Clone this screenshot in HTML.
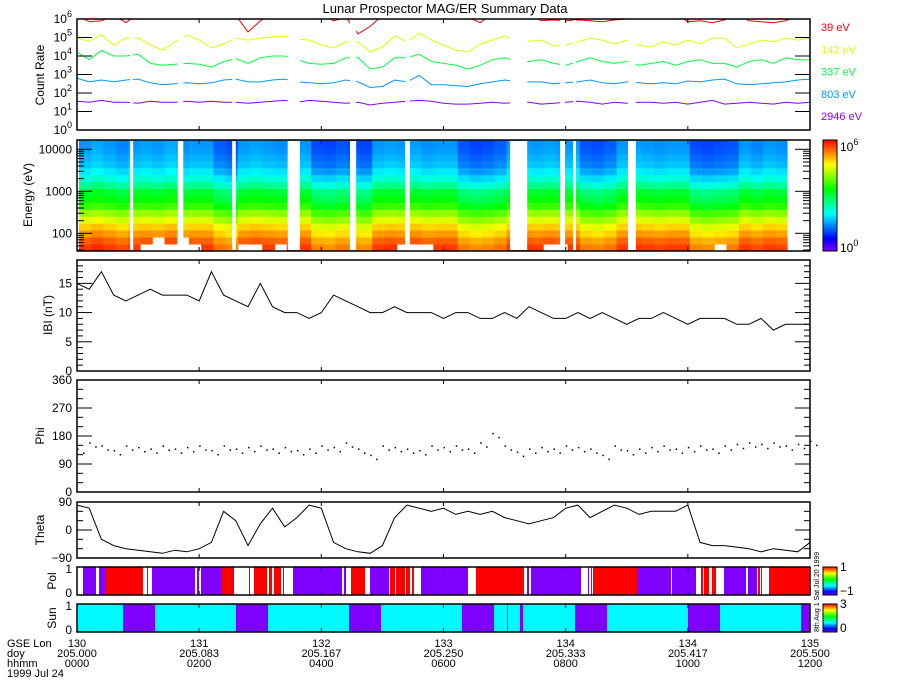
<!DOCTYPE html>
<html><head><meta charset="utf-8"><style>
html,body{margin:0;padding:0;background:#fff;}
svg{display:block;font-family:"Liberation Sans",sans-serif;}
text{fill:#000;}
</style></head><body>
<svg id="chart" width="900" height="700" viewBox="0 0 900 700" xmlns="http://www.w3.org/2000/svg">
<rect x="0" y="0" width="900" height="700" fill="#fff"/>
<text x="445" y="13" font-size="13" text-anchor="middle">Lunar Prospector MAG/ER Summary Data</text>
</svg>
<script>
// ---- data ----
const sampleTimes = [];
for (let i = 0; i <= 60; i++) sampleTimes.push(i * 0.2);
const countLabels = ["39 eV","142 eV","337 eV","803 eV","2946 eV"];
const c39 = [6.2,5.85,5.9,6.2,5.8,6.3,6.3,6.3,6.3,6.3, 6.3,6.3,6.3,6.2,5.3,5.9,6.3,6.3,6.3,6.3, 6.3,5.9,6.1,5.2,5.6,6.2,6.3,6.3,6.3,6.3, 6.3,6.3,6.1,5.8,6.3,6.3,6.3,6.3,5.9,5.95, 5.9,5.95,5.9,5.85,5.95,6.0,6.3,6.3,6.2,6.3, 5.85,5.9,5.8,5.95,6.3,5.9,5.85,5.8,5.9,6.2,6.3];
const c142 = [4.97,4.8,5.14,4.59,4.97,4.97,4.59,4.32,4.76,5.14, 4.86,4.43,4.65,4.97,4.86,4.97,5.03,5.08,4.9,4.86, 4.59,4.43,4.76,4.76,4.22,4.49,5.08,4.76,5.24,4.86, 4.59,4.32,4.22,4.65,4.86,5.08,4.76,4.8,4.86,4.54, 4.59,4.76,4.97,4.86,4.65,4.86,4.59,4.49,4.76,4.59, 4.86,4.65,4.97,4.97,4.43,4.65,4.86,4.76,4.97,4.86,4.97];
const c337 = [4.2,3.8,4.3,4.0,4.0,4.1,3.6,3.5,3.55,3.6, 3.55,3.4,3.7,3.85,3.6,3.9,4.0,4.0,3.8,3.6, 3.55,3.6,3.9,3.9,3.3,3.4,3.9,3.9,4.1,3.7, 3.6,3.5,3.3,3.5,3.8,3.9,3.7,3.7,3.8,3.6, 3.5,3.7,3.9,3.7,3.6,3.7,3.5,3.6,3.7,3.5, 3.7,3.8,3.6,3.6,3.4,3.7,3.8,3.6,3.9,3.8,3.8];
const c803 = [2.8,2.6,2.7,2.6,2.7,2.75,2.55,2.45,2.5,2.55, 2.5,2.55,2.7,2.75,2.6,2.6,2.7,2.75,2.6,2.55, 2.5,2.55,2.7,2.6,2.3,2.35,2.7,2.6,2.95,2.45, 2.45,2.4,2.35,2.5,2.6,2.7,2.6,2.6,2.6,2.5, 2.55,2.6,2.7,2.55,2.5,2.6,2.55,2.5,2.55,2.5, 2.65,2.6,2.7,2.75,2.5,2.45,2.5,2.55,2.6,2.7,2.75];
const c2946 = [1.55,1.5,1.6,1.5,1.5,1.45,1.55,1.5,1.5,1.55, 1.5,1.55,1.5,1.5,1.45,1.5,1.55,1.6,1.5,1.6, 1.55,1.5,1.45,1.5,1.35,1.45,1.5,1.55,1.6,1.55, 1.45,1.4,1.4,1.45,1.5,1.45,1.5,1.5,1.4,1.45, 1.5,1.55,1.5,1.4,1.5,1.45,1.5,1.5,1.45,1.5, 1.4,1.5,1.6,1.4,1.45,1.5,1.45,1.4,1.5,1.45,1.5];
const dataGaps = [[0.87,0.92],[1.65,1.74],[2.54,2.60],[3.45,3.65],[4.47,4.57],[5.37,5.45],[7.09,7.37],[7.91,7.99],[8.12,8.17],[9.02,9.15]];
const specEnergyEdges = [1.58,1.745,1.91,2.075,2.24,2.405,2.57,2.735,2.9,3.065,3.23,3.395,3.56,3.725,3.89,4.055,4.22];
const specProfile = [5.7,5.5,5.2,4.9,4.5,4.1,3.6,3.3,3.1,2.6,2.2,1.9,1.7,1.6,1.5,1.45];
const specOffset = [0,0.1,0,-0.1,0,0.05,0,0.1,-0.05,0, 0,-0.3,-0.4,0,0.05,0,-0.05,0.05,0,-0.4, -0.45,-0.35,-0.4,-0.45,0,0.05,0,0.05,-0.05,0, 0,-0.35,-0.45,-0.4,-0.3,0,0.05,0,0.05,0, 0,-0.35,-0.4,-0.3,0,0.05,0,-0.05,0,0, -0.4,-0.45,-0.4,-0.35,0,-0.1,0,-0.05];
const specLowCut = [0,0,0,0,0,1,2,1,2,1, 0,0,0,1,1,0,1,0,0,0, 0,0,0,0,0,0,1,1,1,0, 0,0,0,0,0,0,0,0,1,1, 0,0,0,0,0,0,0,0,0,0, 0,0,1,0,0,0,0,0];
const bMag = [15,14,17,13,12,13,14,13,13,13, 12,17,13,12,11,15,11,10,10,9, 10,13,12,11,10,10,11,10,10,10, 9,10,10,9,9,10,9,11,10,9, 9,10,9,10,9,8,9,9,10,9, 8,9,9,9,8,8,9,7,8,8,8];
const phiVals = [140,160,150,135,150,145,140,150,140,145, 150,135,150,140,145,150,140,145,135,140, 150,145,160,140,120,150,145,140,135,150, 145,150,140,160,190,150,130,140,145,140, 150,145,140,120,150,135,140,145,150,140, 145,150,140,150,155,160,155,160,150,155,165];
const thetaVals = [80,70,-30,-50,-60,-65,-70,-75,-65,-70, -60,-40,60,30,-50,20,70,10,40,80, 70,-40,-60,-70,-75,-50,40,80,70,60, 70,50,60,50,60,40,30,20,30,40, 70,80,40,60,80,70,50,60,60,60, 80,-40,-50,-50,-55,-60,-70,-60,-65,-70,-40];
const polSegs = [[83,96,-1],[99,105,-1],[105,143,1],[147,148,-1],[152,195,-1],[197,199,-1],[201,221,-1],[221,234,1],[249,250,-1],[254,267,1],[269,272,1],[274,281,1],[283,284,1],[293,342,-1],[344,346,-1],[351,365,1],[370,371,-1],[371,389,-1],[390,395,1],[396,405,1],[406,410,1],[412,414,1],[421,468,-1],[476,524,1],[527,529,-1],[531,581,-1],[588,589,-1],[591,592,1],[593,637,1],[637,671,-1],[672,696,-1],[701,703,1],[704,709,1],[712,716,1],[724,746,-1],[748,757,-1],[758,760,1],[761,762,1],[769,809,1]];
const sunSegs = [[77,123,2],[123,155,0],[155,236,2],[236,268,0],[268,349,2],[349,381,0],[381,462,2],[462,494,0],[494,507,2],[507,508,0],[508,520,2],[520,523,0],[523,575,2],[575,607,0],[607,688,2],[688,720,0],[720,801,2],[801,810,0]];
const lonTicks = ["130","131","132","133","134","134","135"];
const doyTicks = ["205.000","205.083","205.167","205.250","205.333","205.417","205.500"];
const hhmmTicks = ["0000","0200","0400","0600","0800","1000","1200"];

// ---- helpers ----
const NS = "http://www.w3.org/2000/svg";
const svg = document.getElementById("chart");
const X0 = 77, X1 = 810;
const xs = t => X0 + t / 12 * (X1 - X0);
function mk(tag, attrs, parent) {
  const e = document.createElementNS(NS, tag);
  for (const k in attrs) e.setAttribute(k, attrs[k]);
  (parent || svg).appendChild(e);
  return e;
}
function hueColor(v, vmax) {
  const f = Math.max(0, Math.min(1, v / vmax));
  return "hsl(" + (270 * (1 - f)).toFixed(1) + ",100%,50%)";
}
function frame(top, bot, name) {
  const r = mk("rect", {x: X0, y: top, width: X1 - X0, height: bot - top, fill: "none", stroke: "#000", "stroke-width": 1.5});
  
  
  for (let k = 1; k < 6; k++) {
    const x = X0 + k * (X1 - X0) / 6;
    mk("line", {x1: x, x2: x, y1: bot, y2: bot - 4, stroke: "#000"});
    mk("line", {x1: x, x2: x, y1: top, y2: top + 4, stroke: "#000"});
  }
}
function ytick(y, len) {
  mk("line", {x1: X0, x2: X0 + len, y1: y, y2: y, stroke: "#000"});
  mk("line", {x1: X1, x2: X1 - len, y1: y, y2: y, stroke: "#000"});
}
function ylabel(y, txt, name) {
  const t = mk("text", {x: 72, y: y + 4, "font-size": 12, "text-anchor": "end"});
  t.textContent = txt;
  
  
}
function pow10Label(x, y, exp, anchor, name) {
  const t = mk("text", {x: x, y: y + 4, "font-size": 12, "text-anchor": anchor});
  
  
  const a = document.createElementNS(NS, "tspan"); a.textContent = "10"; t.appendChild(a);
  const b = document.createElementNS(NS, "tspan"); b.setAttribute("dy", "-6"); b.setAttribute("font-size", "9"); b.textContent = exp; t.appendChild(b);
}
function axTitle(x, y, txt, name) {
  const t = mk("text", {x: x, y: y, "font-size": 12, "text-anchor": "middle", transform: "rotate(-90 " + x + " " + y + ")"});
  t.textContent = txt;
  
  
}
function polyline(vals, yf, color, name, clipId) {
  let d = "";
  vals.forEach((v, i) => {
    if (v === null) return;
    d += (d ? "L" : "M") + xs(sampleTimes[i]).toFixed(1) + " " + yf(v).toFixed(1);
  });
  const attrs = {d: d, fill: "none", stroke: color, "stroke-width": 1};
  if (clipId) attrs["clip-path"] = "url(#" + clipId + ")";
  const p = mk("path", attrs);
  
  
}
const defs = mk("defs", {});
function clip(id, top, bot) {
  const c = mk("clipPath", {id: id}, defs);
  mk("rect", {x: X0, y: top, width: X1 - X0, height: bot - top}, c);
}
function rainbowGrad(id) {
  const g = mk("linearGradient", {id: id, x1: 0, y1: 1, x2: 0, y2: 0}, defs);
  for (let k = 0; k <= 9; k++) mk("stop", {offset: k / 9, "stop-color": "hsl(" + (270 - 30 * k) + ",100%,50%)"}, g);
}
rainbowGrad("rb");

// ---- panel 1: count rate ----
const CT = 19, CB = 130;
const yc = v => CB - v / 6 * (CB - CT);
clip("clipC", CT, CB);
const countSeries = [c39, c142, c337, c803, c2946];
const countColors = ["#ff0000", "#ddff00", "#00ff44", "#0099ff", "#8800ff"];
countSeries.forEach((s, k) => polyline(s, yc, countColors[k], "count-rate-line-" + countLabels[k].replace(" ", "").toLowerCase(), "clipC"));
dataGaps.forEach(g => mk("rect", {x: xs(g[0]), y: CT + 1, width: xs(g[1]) - xs(g[0]), height: CB - CT - 2, fill: "#fff"}));
frame(CT, CB, "count-rate-panel-frame");
for (let k = 0; k <= 6; k++) { ytick(yc(k), 15); pow10Label(72, yc(k), String(k), "end", "count-rate-tick-label"); }
axTitle(44, 75, "Count Rate", "count-rate-axis-title");
countLabels.forEach((l, k) => {
  const t = mk("text", {x: 821, y: 31 + k * 22.3, "font-size": 11, fill: countColors[k]});
  t.setAttribute("style", "fill:" + countColors[k]);
  t.textContent = l;
  
  
});

// ---- panel 2: spectrogram ----
const ET = 140, EB = 251;
const ye = le => 191.3 - (le - 3) * 42;
specOffset.forEach((off, c) => {
  const x0 = xs(sampleTimes[c]) + 2, x1 = xs(sampleTimes[c + 1]) + 2;
  for (let b = specLowCut[c]; b < specProfile.length; b++) {
    const r = mk("rect", {x: x0.toFixed(1), y: ye(specEnergyEdges[b + 1]).toFixed(1), width: (x1 - x0 + 0.5).toFixed(1), height: (ye(specEnergyEdges[b]) - ye(specEnergyEdges[b + 1]) + 0.5).toFixed(1), fill: hueColor(specProfile[b] + off, 6)});
    
    
  }
});
dataGaps.forEach(g => mk("rect", {x: xs(g[0]), y: ET + 1, width: xs(g[1]) - xs(g[0]), height: EB - ET - 2, fill: "#fff"}));
mk("rect", {x: xs(11.6) + 2, y: ET + 1, width: X1 - xs(11.6) - 2, height: EB - ET - 2, fill: "#fff"});
frame(ET, EB, "energy-panel-frame");
for (let d = 1; d <= 4; d++) for (let m = 1; m <= 9; m++) {
  const le = d + Math.log10(m);
  if (le < 1.58 || le > 4.22) continue;
  ytick(ye(le), m === 1 ? 15 : 7);
}
[["100", 2], ["1000", 3], ["10000", 4]].forEach(p => ylabel(ye(p[1]), p[0], "energy-tick-label"));
axTitle(32, 195, "Energy (eV)", "energy-axis-title");
const cb1 = mk("rect", {x: 823, y: ET, width: 14, height: EB - ET, fill: "url(#rb)", stroke: "#000"});


pow10Label(840, 147, "6", "start", "colorbar-max-label");
pow10Label(840, 248, "0", "start", "colorbar-min-label");

// ---- panel 3: |B| ----
const BT = 260, BB = 371;
const yb = v => BB - v * (BB - BT) / 19;
clip("clipB", BT, BB);
polyline(bMag, yb, "#000", "b-magnitude-line", "clipB");
frame(BT, BB, "b-panel-frame");
for (let v = 0; v <= 19; v++) ytick(yb(v), v % 5 === 0 ? 15 : 6);
[0, 5, 10, 15].forEach(v => ylabel(yb(v), String(v), "b-tick-label"));
axTitle(52, 315, "IBI (nT)", "b-axis-title");

// ---- panel 4: Phi ----
const PT = 380, PB = 492;
const yp = v => PB - v * (PB - PT) / 360;
phiVals.forEach((v, i) => {
  const d = mk("rect", {x: xs(sampleTimes[i]), y: yp(v), width: 1.5, height: 1.5, fill: "#000"});
  
  
  const d2 = mk("rect", {x: xs(sampleTimes[i]) + 6, y: yp(v) + 4, width: 1.5, height: 1.5, fill: "#000"});
  
  
});
frame(PT, PB, "phi-panel-frame");
for (let v = 0; v <= 360; v += 30) ytick(yp(v), v % 90 === 0 ? 15 : 6);
[0, 90, 180, 270, 360].forEach(v => ylabel(yp(v), String(v), "phi-tick-label"));
axTitle(44, 436, "Phi", "phi-axis-title");

// ---- panel 5: Theta ----
const TT = 502, TB = 558;
const yt = v => 530 - v * 28 / 90;
clip("clipT", TT, TB);
polyline(thetaVals, yt, "#000", "theta-line", "clipT");
frame(TT, TB, "theta-panel-frame");
for (let v = -90; v <= 90; v += 30) ytick(yt(v), v % 90 === 0 ? 15 : 6);
[[-90, "\u221290"], [0, "0"], [90, "90"]].forEach(p => ylabel(yt(p[0]), p[1], "theta-tick-label"));
axTitle(44, 530, "Theta", "theta-axis-title");

// ---- panel 6: Pol ----
const LT = 567, LB = 595;
polSegs.forEach(s => {
  const r = mk("rect", {x: s[0], y: LT, width: s[1] - s[0], height: LB - LT, fill: s[2] > 0 ? "#ff0000" : "#8000ff"});
  
  
});
frame(LT, LB, "pol-panel-frame");
ylabel(569, "1", "pol-tick-label"); ylabel(593, "0", "pol-tick-label");
axTitle(56, 581, "Pol", "pol-axis-title");
const cb2 = mk("rect", {x: 823, y: LT, width: 14, height: LB - LT, fill: "url(#rb)", stroke: "#000"});


[["1", 571], ["\u22121", 595]].forEach(p => { const t = mk("text", {x: 840, y: p[1], "font-size": 12}); t.textContent = p[0];   });

// ---- panel 7: Sun ----
const ST = 604, SB = 632;
sunSegs.forEach(s => {
  const r = mk("rect", {x: s[0], y: ST, width: s[1] - s[0], height: SB - ST, fill: s[2] > 0 ? "#00f8ff" : "#8000ff"});
  
  
});
frame(ST, SB, "sun-panel-frame");
ylabel(606, "1", "sun-tick-label"); ylabel(630, "0", "sun-tick-label");
axTitle(56, 618, "Sun", "sun-axis-title");
const cb3 = mk("rect", {x: 823, y: ST, width: 14, height: SB - ST, fill: "url(#rb)", stroke: "#000"});


[["3", 608], ["0", 632]].forEach(p => { const t = mk("text", {x: 840, y: p[1], "font-size": 12}); t.textContent = p[0];   });
const side = mk("text", {x: 819, y: 632, "font-size": 7, transform: "rotate(-90 819 632)"});
side.textContent = "8th Aug 1  Sat Jul 20 1999";



// ---- x axis labels ----
[["GSE Lon", 647], ["doy", 657], ["hhmm", 667], ["1999 Jul 24", 677]].forEach(p => {
  const t = mk("text", {x: 7, y: p[1], "font-size": 11});
  t.textContent = p[0];
  
  
});
[lonTicks, doyTicks, hhmmTicks].forEach((arr, r) => arr.forEach((l, k) => {
  const t = mk("text", {x: xs(k * 2), y: 647 + r * 10, "font-size": 11, "text-anchor": "middle"});
  t.textContent = l;
  
  
}));
</script>
</body></html>
